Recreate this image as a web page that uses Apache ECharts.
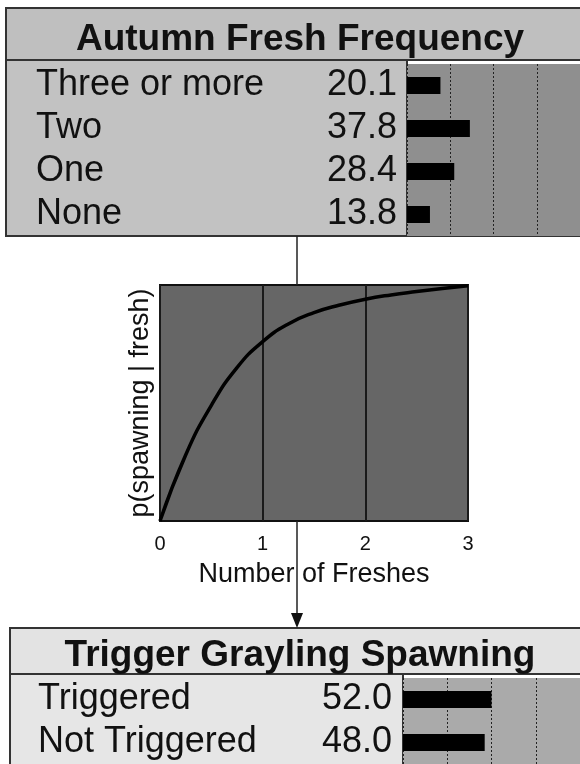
<!DOCTYPE html>
<html>
<head>
<meta charset="utf-8">
<style>
  html, body { margin: 0; padding: 0; background: #fff; }
  #main { width: 580px; height: 764px; }
</style>
<script src="https://cdn.jsdelivr.net/npm/echarts@6/dist/echarts.min.js"></script>
</head>
<body>
<div id="main"></div>
<script>
// Autumn fresh frequency node
const freshStates = ['Three or more', 'Two', 'One', 'None'];
const freshValues = [20.1, 37.8, 28.4, 13.8];

// Trigger grayling spawning node
const spawnStates = ['Triggered', 'Not Triggered'];
const spawnValues = [52.0, 48.0];

// p(spawning | fresh) curve
const curveX = [0, 0.25, 0.5, 0.75, 1, 1.25, 1.5, 1.75, 2, 2.25, 2.5, 2.75, 3];
const curveY = [0, 0.28, 0.49, 0.65, 0.76, 0.835, 0.883, 0.915, 0.94, 0.958, 0.972, 0.985, 0.997];
const curveTicks = ['0', '1', '2', '3'];

const FONT = 'Liberation Sans, Arial, sans-serif';
const INK = '#111';

const chart = echarts.init(document.getElementById('main'));

function nodeAxes(states, values, gridIndex, nameMargin, valueMargin) {
  return [
    {
      type: 'category', gridIndex: gridIndex, data: states, inverse: true,
      axisLine: {show: false}, axisTick: {show: false},
      axisLabel: {interval: 0, align: 'left', margin: nameMargin, fontSize: 36, fontFamily: FONT, color: INK}
    },
    {
      type: 'category', gridIndex: gridIndex, position: 'left', inverse: true,
      data: values.map(v => v.toFixed(1)),
      axisLine: {show: false}, axisTick: {show: false},
      axisLabel: {interval: 0, margin: valueMargin, fontSize: 36, fontFamily: FONT, color: INK}
    }
  ];
}

const barX = (gridIndex) => ({
  type: 'value', gridIndex: gridIndex, min: 0, max: 104, interval: 26,
  axisLine: {show: false}, axisTick: {show: false}, axisLabel: {show: false},
  splitLine: {show: true, lineStyle: {color: '#222', type: [2, 2], width: 1}}
});

const pts = curveX.map((x, i) => [x, curveY[i]]);

const option = {
  animation: false,
  backgroundColor: '#fff',
  title: [
    {
      text: 'Autumn Fresh Frequency', left: 295, top: 16, textAlign: 'center',
      textStyle: {fontSize: 37, fontWeight: 'bold', fontFamily: FONT, color: INK}
    },
    {
      text: 'Trigger Grayling Spawning', left: 295, top: 632, textAlign: 'center',
      textStyle: {fontSize: 37, fontWeight: 'bold', fontFamily: FONT, color: INK}
    }
  ],
  grid: [
    {left: 407, top: 64, width: 180, height: 172, show: true, backgroundColor: '#8f8f8f', borderWidth: 0},
    {left: 160, top: 285, width: 308, height: 236, show: true, backgroundColor: '#666', borderColor: '#111', borderWidth: 2},
    {left: 403, top: 678, width: 180, height: 88, show: true, backgroundColor: '#aaa', borderWidth: 0}
  ],
  xAxis: [
    barX(0),
    {
      type: 'value', gridIndex: 1, min: 0, max: 3, interval: 1,
      axisLine: {show: false}, axisTick: {show: false},
      axisLabel: {margin: 13, fontSize: 20, fontFamily: FONT, color: INK,
        formatter: v => curveTicks[v]},
      splitLine: {show: true, lineStyle: {color: '#1a1a1a', width: 2}},
      name: 'Number of Freshes', nameLocation: 'middle', nameGap: 40,
      nameTextStyle: {fontSize: 27, fontFamily: FONT, color: INK}
    },
    barX(2)
  ],
  yAxis: [
    ...nodeAxes(freshStates, freshValues, 0, 371, 10),
    {
      type: 'value', gridIndex: 1, min: 0, max: 1,
      axisLine: {show: false}, axisTick: {show: false}, axisLabel: {show: false},
      splitLine: {show: false},
      name: 'p(spawning | fresh)', nameLocation: 'middle', nameRotate: 90, nameGap: 6,
      nameTextStyle: {fontSize: 27, fontFamily: FONT, color: INK}
    },
    ...nodeAxes(spawnStates, spawnValues, 2, 365, 11)
  ],
  graphic: [
    // node boxes
    {type: 'rect', z: -5, shape: {x: 6, y: 8, width: 590, height: 52},
      style: {fill: '#bfbfbf', stroke: '#333', lineWidth: 2}},
    {type: 'rect', z: -5, shape: {x: 6, y: 60, width: 401, height: 176},
      style: {fill: '#c2c2c2', stroke: '#333', lineWidth: 2}},
    {type: 'rect', z: -5, shape: {x: 407, y: 60, width: 190, height: 176},
      style: {fill: 'none', stroke: '#333', lineWidth: 2}},
    {type: 'rect', z: -5, shape: {x: 10, y: 628, width: 590, height: 46},
      style: {fill: '#e3e3e3', stroke: '#333', lineWidth: 2}},
    {type: 'rect', z: -5, shape: {x: 10, y: 674, width: 393, height: 100},
      style: {fill: '#e6e6e6', stroke: '#333', lineWidth: 2}},
    {type: 'rect', z: -5, shape: {x: 403, y: 674, width: 190, height: 100},
      style: {fill: 'none', stroke: '#333', lineWidth: 2}},
    // connector arrow
    {type: 'line', z: 10, shape: {x1: 297, y1: 236, x2: 297, y2: 285},
      style: {stroke: '#222', lineWidth: 1.5}},
    {type: 'line', z: 10, shape: {x1: 297, y1: 521, x2: 297, y2: 616},
      style: {stroke: '#222', lineWidth: 1.5}},
    {type: 'polygon', z: 10, shape: {points: [[291, 613], [303, 613], [297, 628]]},
      style: {fill: '#111'}}
  ],
  series: [
    {
      type: 'bar', xAxisIndex: 0, yAxisIndex: 0, data: freshValues,
      barWidth: 17, itemStyle: {color: '#000'}, silent: true
    },
    {
      type: 'line', xAxisIndex: 1, yAxisIndex: 2, data: pts, smooth: 0.5,
      showSymbol: false, lineStyle: {color: '#000', width: 3.5}, silent: true
    },
    {
      type: 'bar', xAxisIndex: 2, yAxisIndex: 3, data: spawnValues,
      barWidth: 17, itemStyle: {color: '#000'}, silent: true
    }
  ]
};

chart.setOption(option);
</script>
</body>
</html>
